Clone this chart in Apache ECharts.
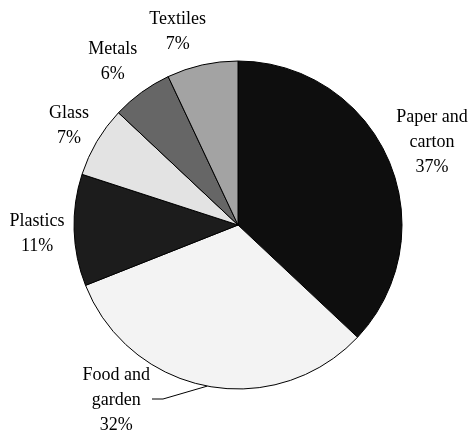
<!DOCTYPE html>
<html>
<head>
<meta charset="utf-8">
<script src="https://cdn.jsdelivr.net/npm/echarts@6/dist/echarts.min.js"></script>
<style>
  html, body { margin: 0; padding: 0; background: #fff; }
  #chart { width: 475px; height: 433px; }
</style>
</head>
<body>
<div id="chart"></div>
<script>
// waste composition, clockwise from 12 o'clock
var categories = ["Paper and\ncarton", "Food and\ngarden", "Plastics", "Glass", "Metals", "Textiles"];
var shares = [37, 32, 11, 7, 6, 7];
var fills = ["#0e0e0e", "#f3f3f3", "#1c1c1c", "#e3e3e3", "#666666", "#a3a3a3"];

var cx = 238, cy = 225, r = 164;
var labelR = 208;
var leaderIdx = 1; // food and garden gets a leader line
// small nudges so labels sit where the original put them
var nudges = [[3, 0], [0, 0], [7, 2], [10, 7], [-3, 5], [-15, 10]];

var total = shares.reduce(function (a, b) { return a + b; }, 0);

function midAngle(i) {
    var before = 0;
    for (var k = 0; k < i; k++) before += shares[k];
    return (before + shares[i] / 2) / total * 2 * Math.PI;
}

var chart = echarts.init(document.getElementById("chart"));

var data = categories.map(function (c, i) {
    return {
        name: c,
        value: shares[i],
        itemStyle: { color: fills[i] },
        labelLine: { show: i === leaderIdx }
    };
});

chart.setOption({
    animation: false,
    series: [{
        type: "pie",
        center: [cx, cy],
        radius: r,
        startAngle: 90,
        clockwise: true,
        data: data,
        itemStyle: { borderColor: "#000", borderWidth: 1 },
        emphasis: { disabled: true },
        label: {
            show: true,
            position: "outside",
            formatter: "{b}\n{d}%",
            fontFamily: "Liberation Serif",
            fontSize: 18,
            lineHeight: 25,
            color: "#000",
            align: "center",
            overflow: "none",
            edgeDistance: 0
        },
        labelLine: {
            lineStyle: { color: "#000", width: 1 }
        },
        labelLayout: function (p) {
            var i = p.dataIndex;
            var a = midAngle(i);
            var w = p.labelRect.width;
            if (i === leaderIdx) {
                var ex = cx + r * Math.sin(a), ey = cy - r * Math.cos(a);
                var ly = cy + 175;
                var lx = cx - 86;
                return {
                    x: lx - 2 - w / 2,
                    y: ly,
                    align: "center",
                    verticalAlign: "middle",
                    labelLinePoints: [[ex, ey], [lx + 11, ly - 1], [lx, ly - 1]]
                };
            }
            return {
                x: cx + labelR * Math.sin(a) + nudges[i][0],
                y: cy - labelR * Math.cos(a) + nudges[i][1],
                align: "center",
                verticalAlign: "middle"
            };
        }
    }]
});
</script>
</body>
</html>
